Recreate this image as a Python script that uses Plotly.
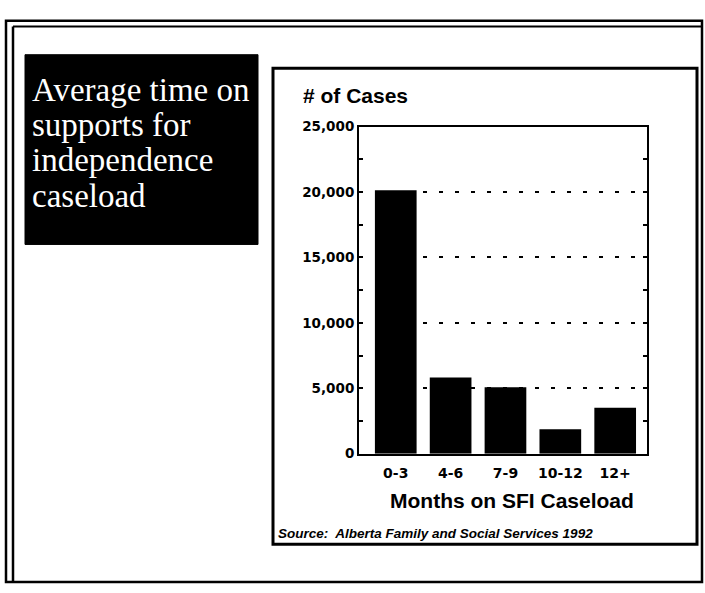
import plotly.graph_objects as go

# ---- data ----
categories = ["0-3", "4-6", "7-9", "10-12", "12+"]
cases = [20150, 5820, 5070, 1870, 3500]
y_ticks = [0, 5000, 10000, 15000, 20000, 25000]
y_tick_labels = ["0", "5,000", "10,000", "15,000", "20,000", "25,000"]
title_lines = ["Average time on", "supports for", "independence", "caseload"]
y_title = "# of Cases"
x_title = "Months on SFI Caseload"
source_text = "Source:  Alberta Family and Social Services 1992"

W, H = 705, 593


def px(x):
    return x / W


def py(y):
    return 1 - y / H


fig = go.Figure()
fig.add_trace(go.Bar(
    x=categories, y=cases,
    marker=dict(color="black", line=dict(width=0)),
    showlegend=False,
))

shapes = []
# outer double frame
shapes.append(dict(type="rect", xref="paper", yref="paper",
                   x0=px(6), y0=py(13), x1=px(702), y1=py(590),
                   line=dict(color="black", width=2.5)))
shapes.append(dict(type="line", xref="paper", yref="paper",
                   x0=px(13), y0=py(19), x1=px(13), y1=py(590),
                   line=dict(color="black", width=2.5)))
shapes.append(dict(type="line", xref="paper", yref="paper",
                   x0=px(13), y0=py(19), x1=px(702), y1=py(19),
                   line=dict(color="black", width=2)))
# black title box
shapes.append(dict(type="rect", xref="paper", yref="paper",
                   x0=px(25), y0=py(48), x1=px(258), y1=py(243),
                   fillcolor="black", line=dict(color="black", width=1),
                   layer="below"))
# chart box
shapes.append(dict(type="rect", xref="paper", yref="paper",
                   x0=px(273), y0=py(62), x1=px(697), y1=py(551),
                   line=dict(color="black", width=3), layer="below"))

annotations = []
line_mids = [84, 120, 156, 193]
for line, ym in zip(title_lines, line_mids):
    annotations.append(dict(
        text=line, xref="paper", yref="paper", x=px(30), y=py(ym),
        xanchor="left", yanchor="middle", showarrow=False,
        font=dict(family="Liberation Serif, Times New Roman, serif",
                  size=33, color="white")))

annotations.append(dict(
    text="<b>" + y_title + "</b>", xref="paper", yref="paper", x=px(301), y=py(90),
    xanchor="left", yanchor="middle", showarrow=False,
    font=dict(family="Liberation Sans, Arial, sans-serif", size=21, color="black")))
annotations.append(dict(
    text="<b>" + x_title + "</b>", xref="paper", yref="paper", x=px(512), y=py(506),
    xanchor="center", yanchor="middle", showarrow=False,
    font=dict(family="Liberation Sans, Arial, sans-serif", size=21, color="black")))
annotations.append(dict(
    text="<b><i>" + source_text + "</i></b>", xref="paper", yref="paper",
    x=px(276), y=py(540), xanchor="left", yanchor="middle", showarrow=False,
    font=dict(family="Liberation Sans, Arial, sans-serif", size=13.5, color="black")))

fig.update_layout(
    width=W, height=H,
    margin=dict(l=0, r=0, t=0, b=0),
    paper_bgcolor="white", plot_bgcolor="white",
    bargap=0.24,
    shapes=shapes,
    annotations=annotations,
    xaxis=dict(
        type="category",
        domain=[px(359), px(647)],
        range=[-0.67, 4.58],
        showline=True, linecolor="black", linewidth=2, mirror=True,
        showgrid=False, ticks="", zeroline=False,
        ticklabelstandoff=6,
        tickfont=dict(family="DejaVu Sans, sans-serif", size=14,
                      color="black", weight="bold"),
    ),
    yaxis=dict(
        domain=[py(458), py(122)],
        range=[0, 25000],
        tickvals=y_ticks, ticktext=y_tick_labels,
        showline=True, linecolor="black", linewidth=2, mirror="allticks",
        ticks="inside", ticklen=4, tickwidth=1.5, tickcolor="black",
        showgrid=True, gridcolor="black", gridwidth=2, griddash="4px,12px",
        zeroline=False,
        minor=dict(dtick=2500, ticks="inside", ticklen=4, tickwidth=1.5,
                   tickcolor="black", showgrid=False),
        tickfont=dict(family="DejaVu Sans, sans-serif", size=13.5,
                      color="black", weight="bold"),
    ),
)

fig.write_html("out.html",
               post_script="document.body.style.margin='0';document.body.style.overflow='hidden';")
